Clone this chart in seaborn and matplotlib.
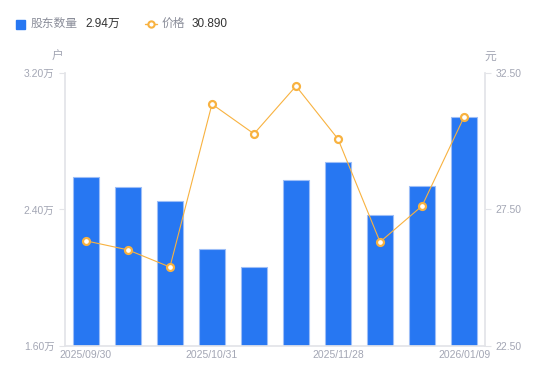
import matplotlib
matplotlib.use("Agg")
import matplotlib.pyplot as plt
import numpy as np
import pandas as pd
import seaborn as sns

sns.set_theme(style="white")
plt.rcParams["font.family"] = ["Liberation Sans", "Noto Sans CJK SC", "DejaVu Sans"]

dates = ["2025/09/30", "2025/10/10", "2025/10/20", "2025/10/31", "2025/11/10",
         "2025/11/20", "2025/11/28", "2025/12/10", "2025/12/20", "2026/01/09"]
holders = [2.59, 2.53, 2.45, 2.17, 2.06, 2.57, 2.68, 2.37, 2.54, 2.94]  # 万户
price = [26.35, 26.02, 25.39, 31.36, 30.27, 32.02, 30.08, 26.31, 27.63, 30.89]
shown_labels = ["2025/09/30", "2025/10/31", "2025/11/28", "2026/01/09"]

BLUE = "#2777F2"
ORANGE = "#F8B240"
GRAY = "#A3A6B4"
AXIS = "#E3E4E8"

df = pd.DataFrame({"date": dates, "holders": holders, "price": price})

fig = plt.figure(figsize=(5.5, 3.81), dpi=100)
ax = fig.add_axes([0.118, 0.092, 0.764, 0.7165])
sns.barplot(data=df, x="date", y="holders", color=BLUE, width=0.6,
            edgecolor="#9DBEF7", linewidth=0.8, saturation=1, ax=ax)
ax.set_ylim(1.6, 3.2)
ax.set_xlim(-0.5, len(dates) - 0.5)
ax.set_yticks([1.6, 2.4, 3.2])
ax.set_yticklabels([f"{v:.2f}万" for v in [1.6, 2.4, 3.2]])
ax.set_xticks([dates.index(d) for d in shown_labels])
ax.set_xticklabels(shown_labels)
ax.set_xlabel("")
ax.set_ylabel("")

ax2 = ax.twinx()
sns.lineplot(x=np.arange(len(dates)), y=price, color=ORANGE, linewidth=0.8,
             marker="o", markersize=5, markerfacecolor="white",
             markeredgecolor=ORANGE, markeredgewidth=1.6, ax=ax2)
ax2.set_ylim(22.5, 32.5)
ax2.set_yticks([22.5, 27.5, 32.5])
ax2.set_yticklabels([f"{v:.2f}" for v in [22.5, 27.5, 32.5]])

for a in (ax, ax2):
    for s in a.spines.values():
        s.set_visible(False)
    a.tick_params(colors=GRAY, labelsize=7.5, length=4, width=0.8)
    a.tick_params(axis="y", color=AXIS)
ax.spines["left"].set_visible(True)
ax.spines["left"].set_color(AXIS)
ax.spines["bottom"].set_visible(True)
ax.spines["bottom"].set_color(AXIS)
ax2.spines["right"].set_visible(True)
ax2.spines["right"].set_color(AXIS)
ax.tick_params(axis="x", length=0, pad=3)
ax.tick_params(axis="x", labelcolor=GRAY)
for lbl in ax.get_xticklabels():
    lbl.set_horizontalalignment("center")

# units
fig.text(58 / 550, 1 - 57 / 381, "户", color=GRAY, fontsize=8.5, ha="center", va="center")
fig.text(490 / 550, 1 - 57 / 381, "元", color=GRAY, fontsize=8.5, ha="center", va="center")

# legend header
ly = 1 - 24 / 381
fig.patches.append(plt.Rectangle((16 / 550, ly - 4.5 / 381), 9 / 550, 9 / 381,
                                 transform=fig.transFigure, color=BLUE))
fig.text(31 / 550, ly, "股东数量", color="#8A8D99", fontsize=8.5, va="center")
fig.text(85 / 550, ly, f"{holders[-1]:.2f}万", color="#333333", fontsize=8.5, va="center")
fig.lines.append(plt.Line2D([145 / 550, 157 / 550], [ly, ly], transform=fig.transFigure,
                            color=ORANGE, linewidth=1))
fig.lines.append(plt.Line2D([151 / 550], [ly], transform=fig.transFigure, marker="o",
                            markersize=4.5, markerfacecolor="white", markeredgecolor=ORANGE,
                            markeredgewidth=1.5))
fig.text(162 / 550, ly, "价格", color="#8A8D99", fontsize=8.5, va="center")
fig.text(192 / 550, ly, f"{price[-1]:.3f}", color="#333333", fontsize=8.5, va="center")

fig.savefig("out.png", dpi=100)
